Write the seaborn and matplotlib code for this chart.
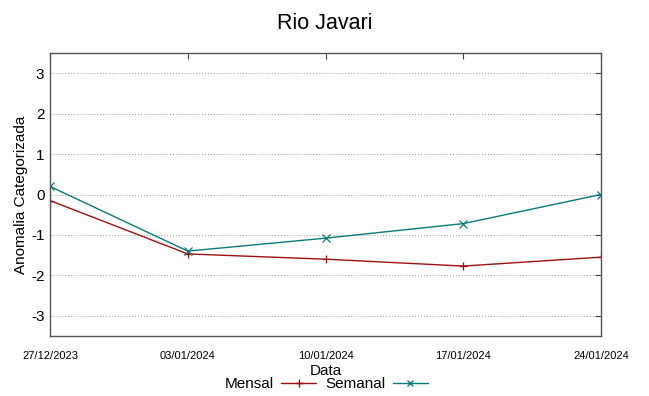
import matplotlib
matplotlib.use("Agg")
import matplotlib.pyplot as plt
import seaborn as sns
import pandas as pd
from matplotlib.lines import Line2D

dates = ["27/12/2023", "03/01/2024", "10/01/2024", "17/01/2024", "24/01/2024"]
mensal = [-0.15, -1.47, -1.60, -1.77, -1.55]
semanal = [0.20, -1.40, -1.08, -0.72, 0.00]
yticks = [-3, -2, -1, 0, 1, 2, 3]

sns.set_style("white")
plt.rcParams["font.family"] = ["Liberation Sans", "DejaVu Sans"]
plt.rcParams["text.color"] = "black"
plt.rcParams["axes.labelcolor"] = "black"
plt.rcParams["xtick.color"] = "black"
plt.rcParams["ytick.color"] = "black"

x = list(range(len(dates)))
df = pd.DataFrame({
    "x": x * 2,
    "val": mensal + semanal,
    "serie": ["Mensal"] * len(dates) + ["Semanal"] * len(dates),
})

fig = plt.figure(figsize=(6.49, 3.96), dpi=100)
ax = fig.add_axes([50 / 649, 1 - 336 / 396, 551 / 649, 283 / 396])

palette = {"Mensal": "#a01010", "Semanal": "#0a7a7a"}
sns.lineplot(data=df, x="x", y="val", hue="serie", style="serie",
             markers={"Mensal": "+", "Semanal": "x"}, dashes=False,
             palette=palette, linewidth=1.0, markersize=5.5,
             ax=ax, legend=False)
for ln in ax.get_lines():
    c = ln.get_color()
    ln.set_markeredgecolor(c)
    ln.set_markeredgewidth(0.9)

ax.set_xlim(0, 4)
ax.set_ylim(-3.5, 3.5)
ax.set_yticks(yticks)
ax.set_yticklabels([str(v) for v in yticks], fontsize=11)
ax.set_xticks(x)
ax.set_xticklabels(dates, fontsize=8)
ax.tick_params(axis="both", direction="in", length=4, width=0.8, color="#444444",
               top=True, right=True, labelcolor="black")
ax.tick_params(axis="x", pad=11)
ax.tick_params(axis="y", pad=4)
ax.yaxis.grid(True, linestyle=(0, (1, 2)), color="#999999", linewidth=0.7)
for s in ax.spines.values():
    s.set_color("#555555")
    s.set_linewidth(1.0)

ax.set_xlabel("Data", fontsize=11, labelpad=2)
ax.set_ylabel("Anomalia Categorizada", fontsize=11, labelpad=2)
fig.suptitle("Rio Javari", fontsize=15.5, y=0.968)

handles = [Line2D([], [], color=palette["Mensal"], marker="+", lw=1.0, ms=6),
           Line2D([], [], color=palette["Semanal"], marker="x", lw=1.0, ms=5)]
fig.legend(handles, ["Mensal", "Semanal"], loc="center", bbox_to_anchor=(0.503, 0.03),
           ncol=2, frameon=False, markerfirst=False, fontsize=11,
           handlelength=2.3, columnspacing=0.6, handletextpad=0.45, borderpad=0)

fig.savefig("out.png", dpi=100)
